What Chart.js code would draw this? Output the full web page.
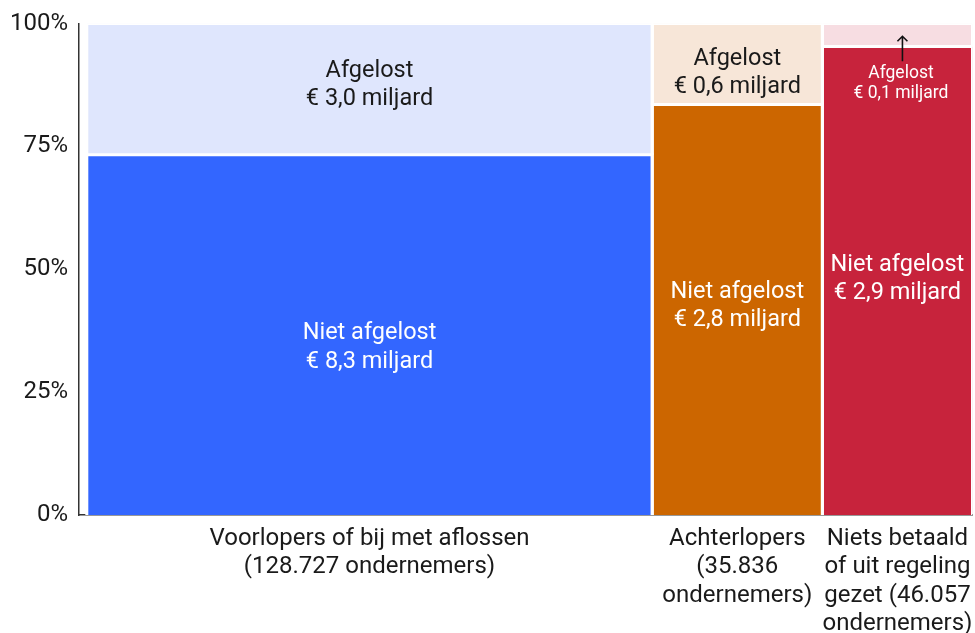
<!DOCTYPE html>
<html>
<head>
<meta charset="utf-8">
<script src="https://cdn.jsdelivr.net/npm/chart.js@4.4.1/dist/chart.umd.min.js"></script>
<style>
  html, body { margin: 0; padding: 0; background: #fff; }
  #wrap { width: 975px; height: 633px; }
</style>
</head>
<body>
<div id="wrap"><canvas id="c" width="975" height="633"></canvas></div>
<script>
// ---- data ----
const categories = [
  ["Voorlopers of bij met aflossen", "(128.727 ondernemers)"],
  ["Achterlopers", "(35.836", "ondernemers)"],
  ["Niets betaald", "of uit regeling", "gezet (46.057", "ondernemers)"]
];
const nietAfgelost = [8.28, 2.84, 2.86];   // € miljard, not repaid
const afgelost = [3.02, 0.56, 0.14];       // € miljard, repaid
const nietLabels = ["€ 8,3 miljard", "€ 2,8 miljard", "€ 2,9 miljard"];
const afgelostLabels = ["€ 3,0 miljard", "€ 0,6 miljard", "€ 0,1 miljard"];
const yTicks = [0, 25, 50, 75, 100];

// ---- styling ----
const darkColors = ["#3366FF", "#CC6600", "#C7233C"];
const lightColors = ["#DFE6FD", "#F7E6D8", "#F7DDE2"];
const FONT = "Roboto";

// derived geometry in data units
const totals = nietAfgelost.map((v, i) => v + afgelost[i]);
const starts = [];
let acc = 0;
totals.forEach(t => { starts.push(acc); acc += t; });
const ends = starts.map((s, i) => s + totals[i]);
const shares = nietAfgelost.map((v, i) => v / totals[i] * 100);
const centers = starts.map((s, i) => (s + ends[i]) / 2);

const datasets = [];
totals.forEach((t, i) => {
  const s = starts[i], e = ends[i], p = shares[i];
  datasets.push({
    data: [{x: s, y: 0}, {x: s, y: p}, {x: e, y: p}, {x: e, y: 0}],
    fill: 'origin',
    backgroundColor: darkColors[i],
    borderColor: '#ffffff',
    borderWidth: 3,
    clip: 0
  });
  datasets.push({
    data: [{x: s, y: p}, {x: s, y: 100}, {x: e, y: 100}, {x: e, y: p}],
    fill: {value: p},
    backgroundColor: lightColors[i],
    borderColor: '#ffffff',
    borderWidth: 3,
    clip: 0
  });
});

// label anchor heights (percent) – layout only
const darkLabelPos = [34.4, 42.8, 48.3];
const lightLabelPos = [87.8, 90.2, 88.1];

const labelPlugin = {
  id: 'labels',
  afterDatasetsDraw(chart) {
    const ctx = chart.ctx;
    const xs = chart.scales.x, ys = chart.scales.y;
    ctx.save();
    ctx.textAlign = 'center';
    ctx.textBaseline = 'alphabetic';
    for (let i = 0; i < totals.length; i++) {
      const cx = xs.getPixelForValue(centers[i]);
      // dark part
      let cy = ys.getPixelForValue(darkLabelPos[i]);
      ctx.fillStyle = '#ffffff';
      ctx.font = `23.5px ${FONT}`;
      ctx.fillText('Niet afgelost', cx, cy - 6.7);
      ctx.fillText(nietLabels[i], cx, cy + 21.7);
      // light part
      cy = ys.getPixelForValue(lightLabelPos[i]);
      if (i < 2) {
        ctx.fillStyle = '#1a1a1a';
        ctx.font = `23.5px ${FONT}`;
        ctx.fillText('Afgelost', cx, cy - 6.7);
        ctx.fillText(afgelostLabels[i], cx, cy + 21.7);
      } else {
        ctx.fillStyle = '#ffffff';
        ctx.font = `17.5px ${FONT}`;
        ctx.fillText('Afgelost', cx + 3.5, cy - 3.6);
        ctx.fillText(afgelostLabels[i], cx + 3.5, cy + 15.8);
        // arrow pointing to the thin top segment
        const ax = cx + 5;
        const yTip = ys.getPixelForValue(97.4);
        const yBot = ys.getPixelForValue(92.3);
        ctx.strokeStyle = '#111';
        ctx.lineWidth = 1.6;
        ctx.beginPath();
        ctx.moveTo(ax, yBot);
        ctx.lineTo(ax, yTip);
        ctx.moveTo(ax - 5, yTip + 5);
        ctx.lineTo(ax, yTip);
        ctx.lineTo(ax + 5, yTip + 5);
        ctx.stroke();
      }
    }
    ctx.restore();
  }
};

new Chart(document.getElementById('c'), {
  type: 'line',
  data: { datasets },
  options: {
    responsive: false,
    animation: false,
    layout: { padding: { top: 23.5, right: 2.5, left: 0, bottom: 0 } },
    elements: {
      line: { tension: 0, borderJoinStyle: 'miter', borderCapStyle: 'butt' },
      point: { radius: 0, hoverRadius: 0 }
    },
    plugins: {
      legend: { display: false },
      tooltip: { enabled: false },
      filler: { drawTime: 'beforeDatasetsDraw' }
    },
    scales: {
      x: {
        type: 'linear',
        min: -0.156,
        max: ends[ends.length - 1],
        grid: { display: false, drawTicks: false },
        border: { display: true, color: '#333', width: 1.5 },
        afterFit(scale) {
          scale.height = 118;
          scale.paddingLeft = 0; scale.paddingRight = 0;
        },
        afterBuildTicks(scale) { scale.ticks = centers.map(v => ({ value: v })); },
        ticks: {
          autoSkip: false,
          maxRotation: 0,
          padding: 10,
          color: '#1a1a1a',
          font: { family: FONT, size: 24, lineHeight: 1.18 },
          callback: (v, i) => categories[i]
        }
      },
      y: {
        type: 'linear',
        min: 0,
        max: 100,
        grid: { display: false, drawTicks: false },
        border: { display: true, color: '#333', width: 1.5 },
        afterFit(scale) {
          scale.width = 79;
          scale.paddingTop = 0; scale.paddingBottom = 0;
        },
        afterBuildTicks(scale) { scale.ticks = yTicks.map(v => ({ value: v })); },
        ticks: {
          padding: 11,
          color: '#1a1a1a',
          font: { family: FONT, size: 24 },
          callback: v => v + '%'
        }
      }
    }
  },
  plugins: [labelPlugin]
});
</script>
</body>
</html>
